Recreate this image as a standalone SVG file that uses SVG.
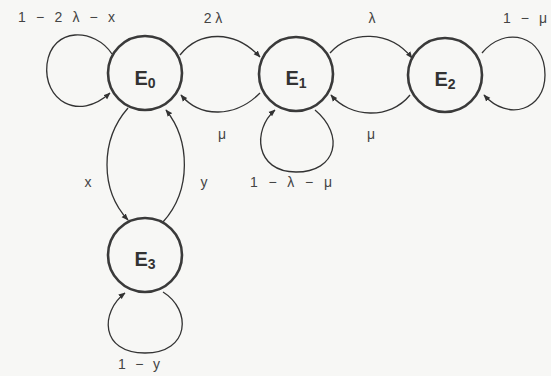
<svg xmlns="http://www.w3.org/2000/svg" width="551" height="376" viewBox="0 0 551 376">
<style>
.node{fill:none;stroke:#3a3a3a;stroke-width:2.6}
.nl{font-family:"Liberation Sans",Arial,sans-serif;font-size:20px;font-weight:bold;fill:#333}
.sub{font-size:14px}
.edge{fill:none;stroke:#333;stroke-width:1.3;marker-end:url(#ah)}
.lbl{font-family:"Liberation Sans",Arial,sans-serif;font-size:14px;fill:#444}
</style>
<defs>
<marker id="ah" viewBox="0 0 10 10" refX="9" refY="5" markerWidth="7" markerHeight="7" markerUnits="userSpaceOnUse" orient="auto">
<path d="M0,1 L10,5 L0,9 Z" fill="#333"/>
</marker>
</defs>
<rect width="551" height="376" fill="#f7f7f5"/>
<g id="connectors">
<path class="edge" d="M112,54 C95,28 52,26 47,64 C43,100 78,122 110,93"/>
<path class="edge" d="M180,55 C200,30 235,30 260,57"/>
<path class="edge" d="M260,93 C235,118 200,118 181,95"/>
<path class="edge" d="M330,53 C350,30 390,30 412,58"/>
<path class="edge" d="M410,95 C390,120 350,118 331,95"/>
<path class="edge" d="M482,53 C505,25 545,35 545,75 C545,110 508,122 484,95"/>
<path class="edge" d="M315,110 C345,135 337,172 296,172 C255,172 252,130 275,110"/>
<path class="edge" d="M128,108 C100,140 100,190 128,220"/>
<path class="edge" d="M163,222 C192,190 190,140 166,110"/>
<path class="edge" d="M163,292 C192,310 190,353 145,353 C100,353 100,312 125,293"/>
</g>
<g id="E0"><circle class="node" cx="145" cy="73" r="37"/><text class="nl" x="145" y="85" text-anchor="middle">E<tspan class="sub" dy="3">0</tspan></text></g>
<g id="E1"><circle class="node" cx="296" cy="74" r="37"/><text class="nl" x="296" y="85" text-anchor="middle">E<tspan class="sub" dy="3">1</tspan></text></g>
<g id="E2"><circle class="node" cx="445" cy="75" r="37"/><text class="nl" x="445" y="86" text-anchor="middle">E<tspan class="sub" dy="3">2</tspan></text></g>
<g id="E3"><circle class="node" cx="145" cy="255" r="37"/><text class="nl" x="145" y="266" text-anchor="middle">E<tspan class="sub" dy="3">3</tspan></text></g>
<g id="labels">
<text class="lbl" x="18" y="22" textLength="97" lengthAdjust="spacing">1 − 2 λ − x</text>
<text class="lbl" x="213" y="23" text-anchor="middle">2 λ</text>
<text class="lbl" x="372" y="23" text-anchor="middle">λ</text>
<text class="lbl" x="503" y="23" textLength="44" lengthAdjust="spacing">1 − μ</text>
<text class="lbl" x="222" y="139" text-anchor="middle">μ</text>
<text class="lbl" x="371" y="139" text-anchor="middle">μ</text>
<text class="lbl" x="250" y="187" textLength="82" lengthAdjust="spacing">1 − λ − μ</text>
<text class="lbl" x="88" y="187" text-anchor="middle">x</text>
<text class="lbl" x="204" y="187" text-anchor="middle">y</text>
<text class="lbl" x="118" y="369" textLength="42" lengthAdjust="spacing">1 − y</text>
</g>
</svg>
